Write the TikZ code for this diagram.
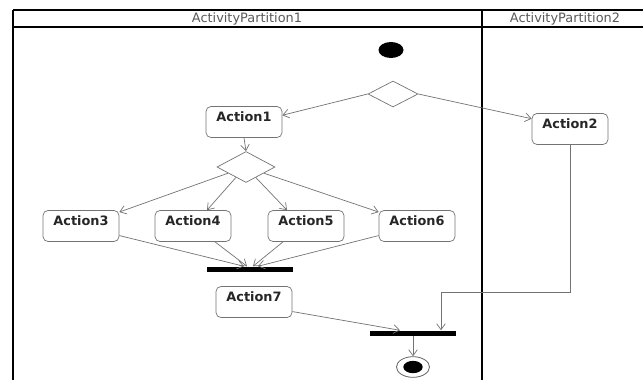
\documentclass[tikz,border=0pt]{standalone}
\usepackage{fontspec}
\setmainfont{DejaVu Sans}
\usetikzlibrary{shapes.geometric, arrows.meta, calc}

\begin{document}
\begin{tikzpicture}[x = 0.03cm, y = -0.03cm, > = {Straight Barb[length = 1.8mm, width = 2.6mm]},
	action/.style = {rectangle, rounded corners = 1.5mm, draw = black!55, line width = 0.6pt, minimum width = 2.28cm, inner xsep = 0, inner ysep = 0.14cm, text height = 0.3cm, text depth = 0.35cm, font = \fontsize{11}{13}\selectfont\bfseries, text = black!85},
	decision/.style = {diamond, draw = black!55, line width = 0.6pt, inner sep = 0, minimum width = 1.65cm, minimum height = 0.86cm},
	bar/.style = {rectangle, fill = black, inner sep = 0, minimum width = 2.6cm, minimum height = 0.15cm},
	header/.style = {font = \fontsize{11}{13}\selectfont, text = black!65},
	flow/.style = {->, draw = black!55, line width = 0.6pt}]

	\useasboundingbox (0, 0) rectangle (643, 380);

	% Partition frame

	\draw[line width = 1pt] (13, 10) -- (643, 10);
	\draw[line width = 1pt] (13, 27) -- (643, 27);
	\draw[line width = 1.6pt] (13, 10) -- (13, 380);
	\draw[line width = 1.6pt] (482, 10) -- (482, 380);

	\node[header] (part1) at (247, 18.5) {ActivityPartition1};
	\node[header] (part2) at (565, 18.5) {ActivityPartition2};

	% Initial node and decisions

	\node[ellipse, fill = black, inner sep = 0, minimum width = 0.75cm, minimum height = 0.48cm] (start) at (391, 50) {};
	\node[decision, minimum width = 1.5cm, minimum height = 0.78cm] (fork) at (393, 94) {};
	\node[decision, minimum width = 1.74cm, minimum height = 0.93cm] (branch) at (246, 167) {};

	% Actions

	\node[action] (act1) at (244, 122) {Action1};
	\node[action] (act2) at (570, 129) {Action2};
	\node[action] (act3) at (81, 226) {Action3};
	\node[action] (act4) at (193, 226) {Action4};
	\node[action] (act5) at (306, 226) {Action5};
	\node[action] (act6) at (417, 226) {Action6};
	\node[action] (act7) at (254, 302) {Action7};

	% Joins and final node

	\node[bar] (join1) at (250, 269) {};
	\node[bar] (join2) at (413, 333) {};
	\node[ellipse, draw = black!60, line width = 0.7pt, inner sep = 0, minimum width = 0.99cm, minimum height = 0.62cm] (end) at (413, 367) {};
	\node[ellipse, fill = black, inner sep = 0, minimum width = 0.58cm, minimum height = 0.37cm] (endcore) at (end) {};

	% Control flows

	\begin{scope}[flow]

		\draw (fork.west) -- (act1.10);
		\draw (fork.east) -- (act2.165);
		\draw (act1.south) -- (branch.north);

		\draw (branch.199) -- (act3.20);
		\draw (branch.226) -- ($(act4.north) + (14, 0)$);
		\draw (branch.313) -- ($(act5.north) + (-19, 0)$);
		\draw (branch.341) -- (act6.160);

		\draw (act3.-14) -- ($(join1.north) + (-6, 0)$);
		\draw ($(act4.south) + (22, 0)$) -- ($(join1.north) + (-3, 0)$);
		\draw ($(act5.south) + (-23, 0)$) -- ($(join1.north) + (3, 0)$);
		\draw (act6.194) -- ($(join1.north) + (8, 0)$);

		\coordinate (elbow) at (441, 292);
		\draw (act2.south) |- (elbow) -- (elbow |- join2.north);
		\draw (act7.-14) -- ($(join2.north) + (-13, 0)$);
		\draw (join2.south) -- (end.north);

	\end{scope}

\end{tikzpicture}
\end{document}
